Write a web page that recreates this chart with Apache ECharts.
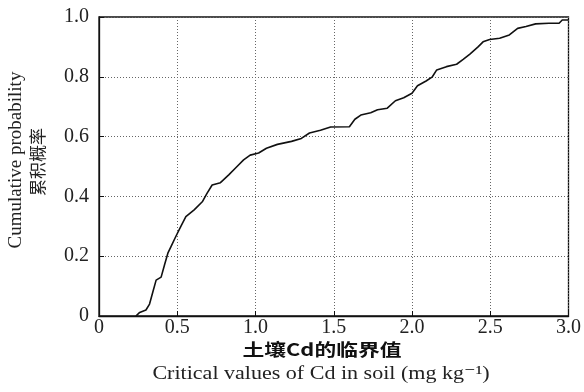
<!DOCTYPE html>
<html>
<head>
<meta charset="utf-8">
<script src="https://cdn.jsdelivr.net/npm/echarts@6/dist/echarts.min.js"></script>
<style>
	html, body { margin: 0; padding: 0; background: #fff; }
	#chart { width: 584px; height: 392px; }
</style>
</head>
<body>
<div id="chart"></div>
<script>
// 土壤Cd临界值 (mg/kg)，读自原图
const cdValues = [
	0.236, 0.26, 0.30, 0.323, 0.344, 0.365, 0.397, 0.418, 0.44, 0.46,
	0.49, 0.523, 0.555, 0.608, 0.66, 0.69, 0.723, 0.776, 0.829, 0.882,
	0.924, 0.966, 1.02, 1.07, 1.14, 1.23, 1.293, 1.345, 1.415, 1.48,
	1.6, 1.635, 1.673, 1.736, 1.78, 1.842, 1.894, 1.947, 2.0, 2.035,
	2.09, 2.13, 2.158, 2.22, 2.285, 2.327, 2.37, 2.422, 2.454, 2.496,
	2.56, 2.622, 2.675, 2.728, 2.79, 2.875, 2.94, 2.96, 3.0
]
// 累积概率
const cumProb = [
	0, 0.012, 0.02, 0.04, 0.08, 0.12, 0.13, 0.17, 0.21, 0.232,
	0.265, 0.30, 0.332, 0.355, 0.382, 0.41, 0.438, 0.446, 0.472, 0.50,
	0.522, 0.538, 0.545, 0.561, 0.574, 0.584, 0.594, 0.612, 0.621, 0.632,
	0.633, 0.658, 0.672, 0.68, 0.69, 0.695, 0.72, 0.73, 0.745, 0.77,
	0.786, 0.80, 0.823, 0.834, 0.842, 0.858, 0.876, 0.90, 0.917, 0.925,
	0.929, 0.94, 0.962, 0.968, 0.977, 0.979, 0.979, 0.99, 0.99
]
const xTicks = [0, 0.5, 1.0, 1.5, 2.0, 2.5, 3.0]
const yTicks = [0, 0.2, 0.4, 0.6, 0.8, 1.0]

const serif = '"Liberation Serif", "DejaVu Serif", serif'
const fmt = v => (v === 0 ? '0' : v.toFixed(1))

const chart = echarts.init(document.getElementById('chart'))
const points = cdValues.map((x, i) => [x, cumProb[i]])

chart.setOption({
	animation: false,
	grid: {
		left: 99,
		right: 11,
		top: 17,
		bottom: 76,
		show: true,
		borderColor: '#111',
		borderWidth: 1.3
	},
	xAxis: {
		type: 'value',
		min: xTicks[0],
		max: xTicks[xTicks.length - 1],
		interval: 0.5,
		axisLine: { show: true, lineStyle: { color: '#111', width: 1.3 } },
		axisTick: { show: true, inside: true, length: 5, lineStyle: { color: '#111' } },
		axisLabel: {
			color: '#222',
			fontFamily: serif,
			fontSize: 20,
			margin: 2,
			formatter: fmt
		},
		splitLine: { show: true, lineStyle: { color: '#666', type: [1, 2], width: 1 } }
	},
	yAxis: {
		type: 'value',
		min: yTicks[0],
		max: yTicks[yTicks.length - 1],
		interval: 0.2,
		axisLine: { show: true, lineStyle: { color: '#111', width: 1.3 } },
		axisTick: { show: true, inside: true, length: 5, lineStyle: { color: '#111' } },
		axisLabel: {
			color: '#222',
			fontFamily: serif,
			fontSize: 20,
			margin: 10,
			formatter: fmt
		},
		splitLine: { show: true, lineStyle: { color: '#666', type: [1, 2], width: 1 } }
	},
	graphic: [
		{
			type: 'text',
			x: 322,
			y: 350,
			scaleX: 1.28,
			style: {
				text: '土壤Cd的临界值',
				font: 'bold 17px "Noto Sans CJK SC"',
				fill: '#111',
				align: 'center',
				verticalAlign: 'middle'
			}
		},
		{
			type: 'text',
			x: 321,
			y: 374,
			scaleX: 1.16,
			style: {
				text: 'Critical values of Cd in soil (mg kg⁻¹)',
				font: '19px ' + serif,
				fill: '#222',
				align: 'center',
				verticalAlign: 'middle'
			}
		},
		{
			type: 'text',
			x: 16,
			y: 160,
			rotation: Math.PI / 2,
			style: {
				text: 'Cumulative probability',
				font: '19px ' + serif,
				fill: '#222',
				align: 'center',
				verticalAlign: 'middle'
			}
		},
		{
			type: 'text',
			x: 38,
			y: 162,
			rotation: Math.PI / 2,
			style: {
				text: '累积概率',
				font: '17px "Noto Sans CJK SC"',
				fill: '#222',
				align: 'center',
				verticalAlign: 'middle'
			}
		}
	],
	series: [
		{
			type: 'line',
			data: points,
			showSymbol: false,
			lineStyle: { color: '#111', width: 1.6 }
		}
	]
})
</script>
</body>
</html>
